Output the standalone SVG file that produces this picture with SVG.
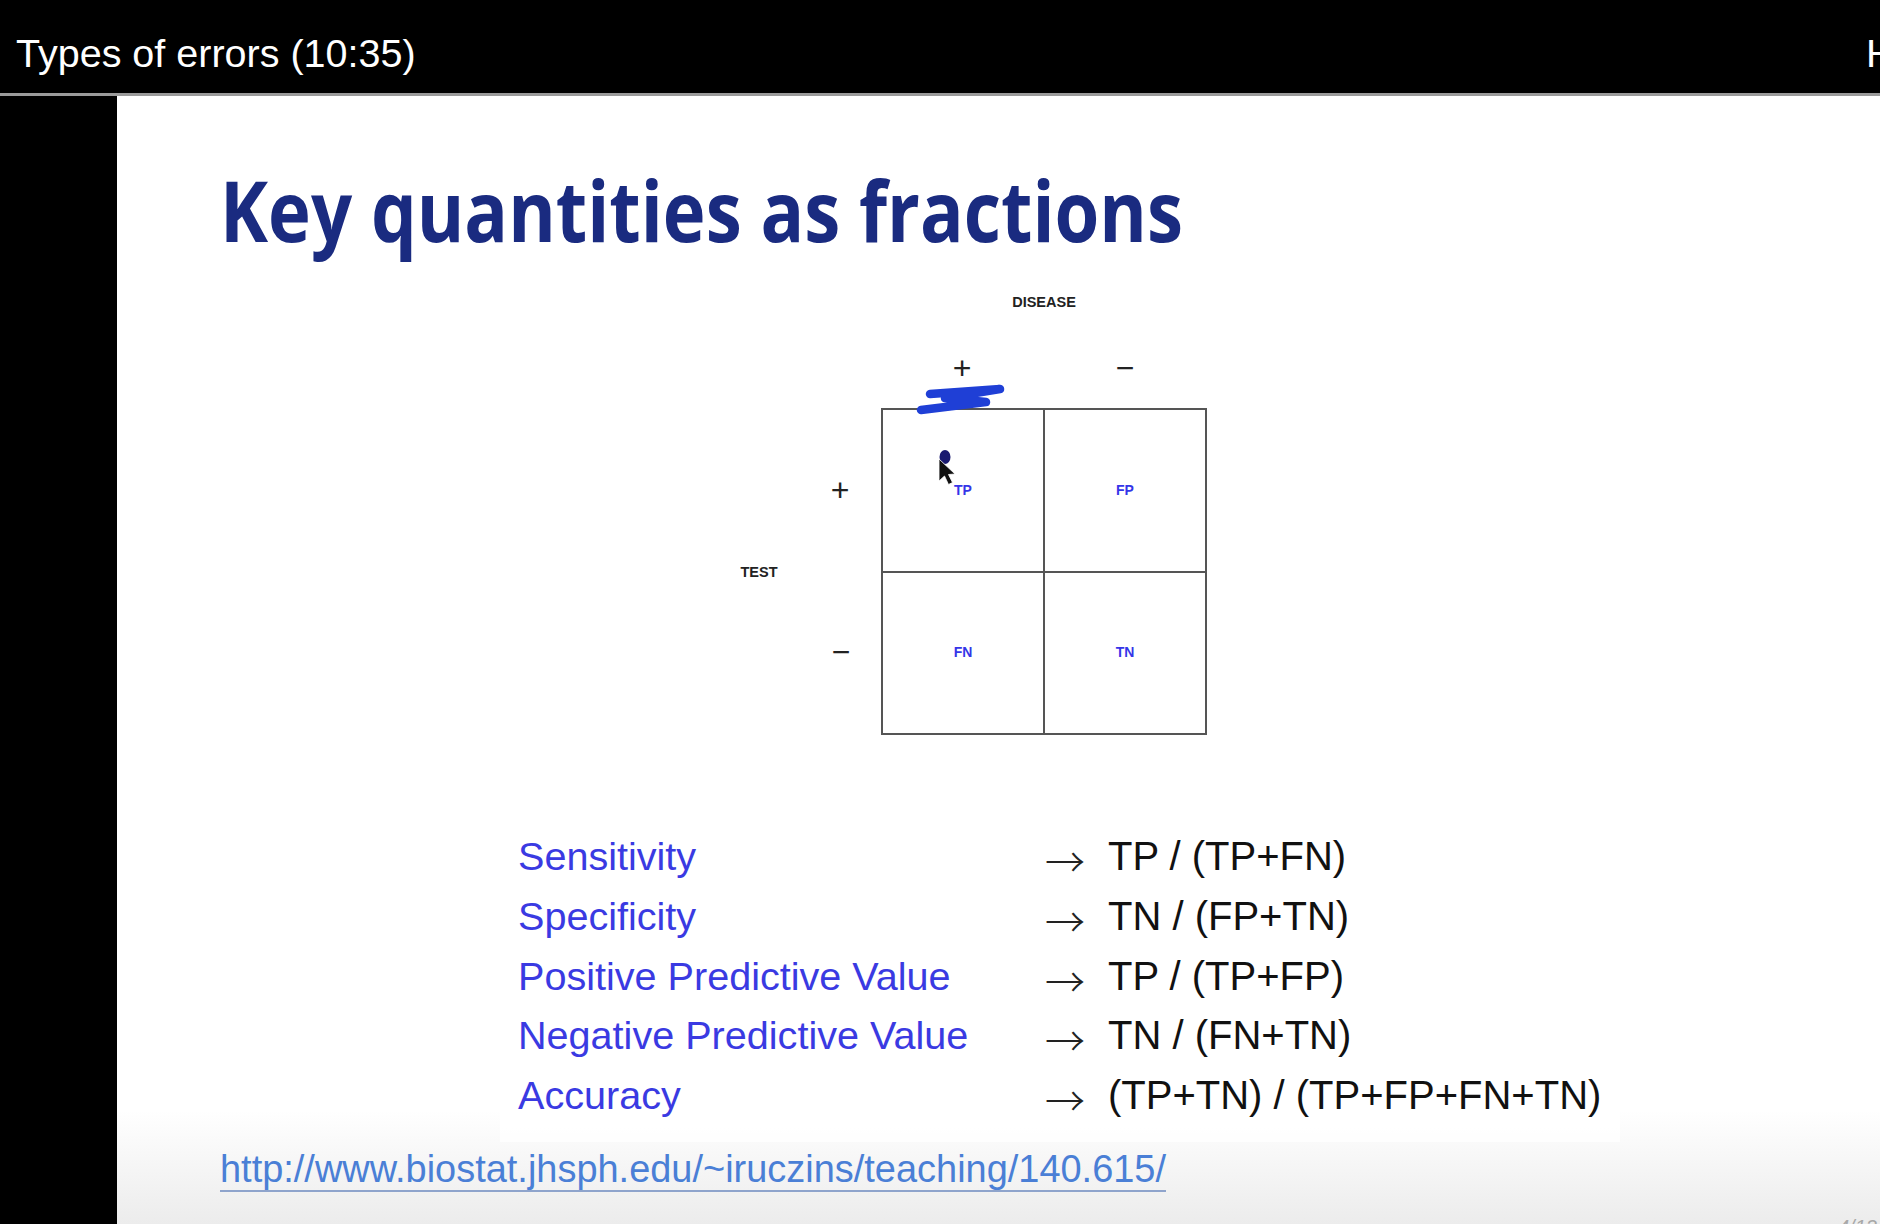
<svg xmlns="http://www.w3.org/2000/svg" width="1880" height="1224" viewBox="0 0 1880 1224">
<defs>
<linearGradient id="bottomShade" x1="0" y1="0" x2="0" y2="1">
<stop offset="0" stop-color="#ffffff"/>
<stop offset="1" stop-color="#ececec"/>
</linearGradient>
</defs>
<style>
.hdr{font-family:"Liberation Sans",Arial,sans-serif;font-size:39.5px;fill:#ffffff}
.title{font-family:"Open Sans","Noto Sans",sans-serif;font-weight:700;font-size:84px;fill:#1a2b80}
.lab{font-family:"Liberation Sans",Arial,sans-serif;font-weight:700;font-size:14.5px;fill:#222222}
.sign{font-family:"Liberation Sans",Arial,sans-serif;font-size:32px;fill:#222222;text-anchor:middle}
.cell{font-family:"Liberation Sans",Arial,sans-serif;font-weight:700;font-size:14px;fill:#3535e8;text-anchor:middle}
.grid{fill:none;stroke:#555555;stroke-width:2}
.term{font-family:"Liberation Sans",Arial,sans-serif;font-size:39.6px;fill:#3a3ae2}
.formula{font-family:"Liberation Sans",Arial,sans-serif;font-size:40px;fill:#111111}
.arrow{font-family:"Noto Sans CJK SC",sans-serif;font-weight:300;font-size:40px;fill:#222222}
.url{font-family:"Liberation Sans",Arial,sans-serif;font-size:38px;fill:#4a7fd6}
</style>
<rect x="0" y="0" width="1880" height="1224" fill="#000000"/>
<rect x="117" y="96" width="1763" height="1128" fill="#ffffff"/>
<rect x="117" y="1110" width="1763" height="114" fill="url(#bottomShade)"/>
<rect x="500" y="1100" width="1120" height="42" fill="#ffffff" opacity="0.8"/>
<rect x="0" y="93" width="1880" height="3" fill="#9a9a9a"/>
<g id="header">
<text class="hdr" x="16" y="67">Types of errors (10:35)</text>
<text class="hdr" x="1866" y="67">H</text>
</g>
<g id="title">
<text class="title" x="220" y="242" textLength="963" lengthAdjust="spacingAndGlyphs">Key quantities as fractions</text>
</g>
<g id="table">
<rect class="grid" x="882" y="409" width="324" height="325"/>
<line class="grid" x1="1044" y1="409" x2="1044" y2="734"/>
<line class="grid" x1="882" y1="572" x2="1206" y2="572"/>
<text class="lab" x="1044" y="307" text-anchor="middle">DISEASE</text>
<text class="lab" x="759" y="577" text-anchor="middle">TEST</text>
<text class="sign" x="962" y="379">+</text>
<text class="sign" x="1125" y="379">−</text>
<text class="sign" x="840" y="501">+</text>
<text class="sign" x="841" y="663">−</text>
<text class="cell" x="963" y="495">TP</text>
<text class="cell" x="1125" y="495">FP</text>
<text class="cell" x="963" y="657">FN</text>
<text class="cell" x="1125" y="657">TN</text>
</g>
<g id="annotation">
<polyline points="930,394 1000,389 945,398 986,402 921,410" fill="none" stroke="#1f3fd6" stroke-width="8.5" stroke-linecap="round" stroke-linejoin="round"/>
<ellipse cx="945" cy="457" rx="5.5" ry="7" fill="#1a1a70"/>
<path d="M939,459 L939,481 L944.5,476 L948.5,484.5 L952.5,482.5 L948.5,474.5 L955,474 Z" fill="#111111" stroke="#ffffff" stroke-width="0.8"/>
</g>
<g id="definitions">
<text class="term" x="518" y="870">Sensitivity</text>
<text class="term" x="518" y="930">Specificity</text>
<text class="term" x="518" y="990">Positive Predictive Value</text>
<text class="term" x="518" y="1049">Negative Predictive Value</text>
<text class="term" x="518" y="1109">Accuracy</text>
<text class="arrow" x="1045" y="877">→</text>
<text class="arrow" x="1045" y="937">→</text>
<text class="arrow" x="1045" y="997">→</text>
<text class="arrow" x="1045" y="1056">→</text>
<text class="arrow" x="1045" y="1116">→</text>
<text class="formula" x="1108" y="870">TP / (TP+FN)</text>
<text class="formula" x="1108" y="930">TN / (FP+TN)</text>
<text class="formula" x="1108" y="990">TP / (TP+FP)</text>
<text class="formula" x="1108" y="1049">TN / (FN+TN)</text>
<text class="formula" x="1108" y="1109">(TP+TN) / (TP+FP+FN+TN)</text>
</g>
<g id="link">
<text class="url" x="220" y="1182" textLength="946" lengthAdjust="spacingAndGlyphs">http://www.biostat.jhsph.edu/~iruczins/teaching/140.615/</text>
<line x1="220" y1="1191" x2="1166" y2="1191" stroke="#8fa4cc" stroke-width="2"/>
</g>
<g id="page">
<text x="1838" y="1234" font-family="Liberation Sans, Arial, sans-serif" font-size="20" font-style="italic" fill="#a8a8a8">4/13</text>
</g>
</svg>
